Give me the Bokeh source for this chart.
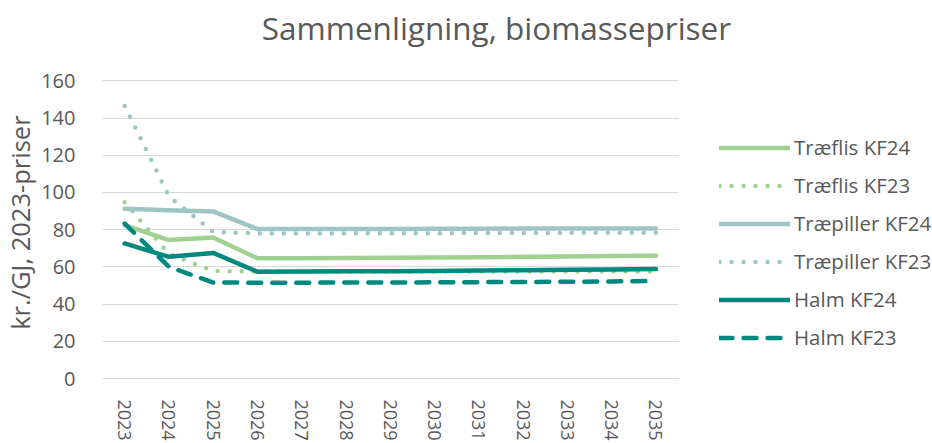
from bokeh.plotting import figure
from bokeh.models import Legend, LegendItem, Label, FixedTicker, Range1d
from bokeh.embed import file_html
from bokeh.resources import INLINE

FONT = "Open Sans"
TXT = "#595959"

years = [2023, 2024, 2025, 2026, 2027, 2028, 2029, 2030, 2031, 2032, 2033, 2034, 2035]
traeflis_kf24 = [82.5, 74.4, 75.8, 64.6, 64.7, 64.8, 64.9, 65.0, 65.2, 65.4, 65.6, 65.8, 66.0]
traeflis_kf23 = [94.8, 67.0, 57.8, 57.5, 57.5, 57.5, 57.5, 57.5, 57.5, 57.5, 57.5, 57.5, 57.5]
traepiller_kf24 = [91.2, 90.4, 89.8, 80.3, 80.3, 80.4, 80.4, 80.5, 80.5, 80.6, 80.6, 80.7, 80.7]
traepiller_kf23 = [146.5, 98.0, 78.8, 78.0, 78.0, 78.0, 78.1, 78.1, 78.2, 78.2, 78.3, 78.3, 78.4]
halm_kf24 = [72.6, 65.4, 67.5, 57.4, 57.5, 57.6, 57.7, 57.8, 58.0, 58.2, 58.4, 58.6, 58.8]
halm_kf23 = [83.3, 60.0, 51.6, 51.5, 51.5, 51.6, 51.6, 51.7, 51.8, 51.9, 52.0, 52.2, 52.4]
y_ticks = [0, 20, 40, 60, 80, 100, 120, 140, 160]

series_names = ["Træflis KF24", "Træflis KF23", "Træpiller KF24", "Træpiller KF23", "Halm KF24", "Halm KF23"]
series_values = [traeflis_kf24, traeflis_kf23, traepiller_kf24, traepiller_kf23, halm_kf24, halm_kf23]
GREEN = "#a1d191"
GREY = "#9fc4c4"
TEAL = "#00897f"
series_colors = [GREEN, GREEN, GREY, GREY, TEAL, TEAL]
series_dash = ["solid", "0 12", "solid", "0 12", "solid", "13 11"]

# layout: plot area 577x300 px at (100, 81); the frame is widened to the
# right and upward so that legend and title live inside it
W, H = 932, 443
LEFT, BOTTOM = 100, 62
AREA_W, AREA_H = 577, 300
x0, x1 = years[0] - 0.5, years[-1] + 0.5
y0, y1 = y_ticks[0], y_ticks[-1]
px_x = AREA_W / (x1 - x0)
px_y = AREA_H / (y1 - y0)
frame_w = W - LEFT
frame_h = H - BOTTOM

p = figure(width=W, height=H, output_backend="svg", toolbar_location=None,
           x_range=Range1d(x0, x0 + frame_w / px_x),
           y_range=Range1d(y0, y0 + frame_h / px_y),
           min_border_left=LEFT, min_border_right=0, min_border_top=0, min_border_bottom=BOTTOM)
p.outline_line_color = None
p.background_fill_color = "white"
p.border_fill_color = "white"
p.xgrid.grid_line_color = None
p.ygrid.grid_line_color = "#d9d9d9"
p.ygrid.grid_line_width = 1
p.ygrid.cross_bounds = (x0, x1)

p.xaxis.ticker = FixedTicker(ticks=years)
p.xaxis.bounds = (x0, x1)
p.xaxis.major_label_overrides = {y: str(y) for y in years}
p.xaxis.major_label_orientation = "vertical"
p.xaxis.major_tick_line_color = None
p.xaxis.minor_tick_line_color = None
p.xaxis.axis_line_color = "#d9d9d9"
p.xaxis.major_label_standoff = 15
p.xaxis.major_label_text_font = FONT
p.xaxis.major_label_text_font_size = "18px"
p.xaxis.major_label_text_color = TXT

p.yaxis.ticker = FixedTicker(ticks=y_ticks)
p.yaxis.bounds = (y0, y1)
p.yaxis.axis_line_color = None
p.yaxis.major_tick_line_color = None
p.yaxis.minor_tick_line_color = None
p.yaxis.major_label_standoff = 21
p.yaxis.major_label_text_font = FONT
p.yaxis.major_label_text_font_size = "20px"
p.yaxis.major_label_text_color = TXT
# non-breaking spaces push the label's centre down to the plot area's centre
p.yaxis.axis_label = "kr./GJ, 2023-priser" + "\u00a0" * 10
p.yaxis.axis_label_text_font = FONT
p.yaxis.axis_label_text_font_size = "25.5px"
p.yaxis.axis_label_text_font_style = "normal"
p.yaxis.axis_label_text_color = TXT
p.yaxis.axis_label_standoff = 1

items = []
for name, vals, col, dash in zip(series_names, series_values, series_colors, series_dash):
    r = p.line(years, vals, line_color=col, line_width=4.5, line_cap="round",
               line_join="round", line_dash=dash)
    items.append(LegendItem(label=name, renderers=[r]))

legend = Legend(items=items, location=(617, 25.5), orientation="vertical",
                glyph_width=71, glyph_height=31, label_height=31, spacing=7,
                padding=0, margin=0, label_standoff=4,
                border_line_color=None, background_fill_alpha=0,
                label_text_font=FONT, label_text_font_size="20.5px", label_text_color=TXT)
p.add_layout(legend)

title = Label(x=394, y=351, x_units="screen", y_units="screen",
              text="Sammenligning, biomassepriser", text_align="center",
              text_baseline="alphabetic", text_font=FONT, text_font_size="31.5px",
              text_color=TXT)
p.add_layout(title)

open("out.html", "w").write(file_html(p, INLINE))
